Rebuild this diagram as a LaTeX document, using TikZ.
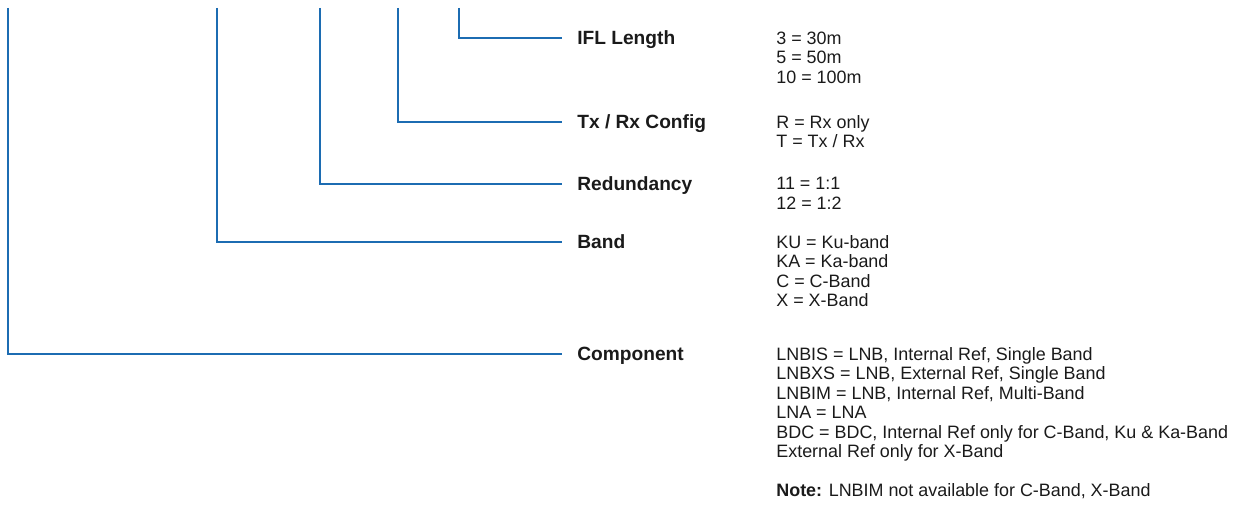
\documentclass[tikz,border=0pt]{standalone}
\usepackage{fontspec}
\setmainfont{Liberation Sans}
\usetikzlibrary{positioning,calc}
\usepackage{xcolor}
\definecolor{codeblue}{RGB}{28,108,178}
\definecolor{codetext}{RGB}{26,26,26}

\begin{document}
\begin{tikzpicture}[
  x=0.02cm, y=-0.02cm,
  field/.style={anchor=west, font=\fontsize{10.9}{11.1}\selectfont\bfseries, text=codetext, text height=0.26cm, text depth=0pt, inner xsep=0.3cm, inner ysep=0pt},
  values/.style={anchor=north west, align=left, font=\fontsize{10.2}{11.1}\selectfont, text=codetext, inner sep=0pt},
  tick/.style={draw=codeblue, line width=0.75pt}
]
\useasboundingbox (0,0) rectangle (1246,526);

% --- Columnas ---
\coordinate (vcol) at (776,0);
\coordinate (t-comp) at (8,8);
\coordinate (t-band) at (217,8);
\coordinate (t-red) at (320,8);
\coordinate (t-txrx) at (398,8);
\coordinate (t-ifl) at (459,8);

% --- Campos ---
\node[field] (ifl) at (562,38) {IFL Length};
\node[field] (txrx) at (562,122) {Tx / Rx Config};
\node[field] (red) at (562,184) {Redundancy};
\node[field] (band) at (562,242) {Band};
\node[field] (comp) at (562,354) {Component};

% --- Valores ---
\node[values] (ifl-v) at (ifl.north -| vcol) {3 = 30m\\5 = 50m\\10 = 100m};
\node[values] (txrx-v) at (txrx.north -| vcol) {R = Rx only\\T = Tx / Rx};
\node[values] (red-v) at (red.north -| vcol) {11 = 1:1\\12 = 1:2};
\node[values] (band-v) at (band.north -| vcol) {KU = Ku-band\\KA = Ka-band\\C = C-Band\\X = X-Band};
\node[values] (comp-v) at (comp.north -| vcol) {LNBIS = LNB, Internal Ref, Single Band\\LNBXS = LNB, External Ref, Single Band\\LNBIM = LNB, Internal Ref, Multi-Band\\LNA = LNA\\BDC = BDC, Internal Ref only for C-Band, Ku \& Ka-Band\\External Ref only for X-Band\\[0.39cm]\textbf{Note:} LNBIM not available for C-Band, X-Band};

% --- Lineas ---
\draw[tick] (t-ifl) |- (ifl.west);
\draw[tick] (t-txrx) |- (txrx.west);
\draw[tick] (t-red) |- (red.west);
\draw[tick] (t-band) |- (band.west);
\draw[tick] (t-comp) |- (comp.west);

\end{tikzpicture}
\end{document}
